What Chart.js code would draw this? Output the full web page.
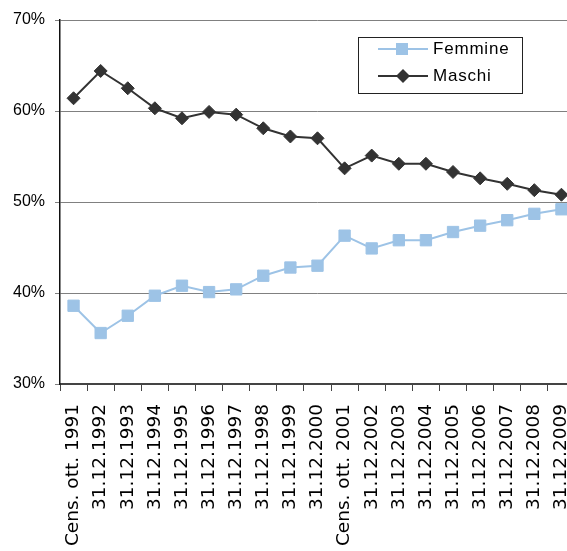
<!DOCTYPE html>
<html>
<head>
<meta charset="utf-8">
<script src="https://cdn.jsdelivr.net/npm/chart.js@4"></script>
<style>
  html, body { margin: 0; padding: 0; background: #fff; overflow: hidden; }
</style>
</head>
<body>
<canvas id="chart" width="584" height="551"></canvas>
<script>
var labels = ["Cens. ott. 1991", "31.12.1992", "31.12.1993", "31.12.1994", "31.12.1995",
  "31.12.1996", "31.12.1997", "31.12.1998", "31.12.1999", "31.12.2000",
  "Cens. ott. 2001", "31.12.2002", "31.12.2003", "31.12.2004", "31.12.2005",
  "31.12.2006", "31.12.2007", "31.12.2008", "31.12.2009"]

var femmine = [38.6, 35.6, 37.5, 39.7, 40.8, 40.1, 40.4, 41.9, 42.8, 43.0,
  46.3, 44.9, 45.8, 45.8, 46.7, 47.4, 48.0, 48.7, 49.2]

var maschi = [61.4, 64.4, 62.5, 60.3, 59.2, 59.9, 59.6, 58.1, 57.2, 57.0,
  53.7, 55.1, 54.2, 54.2, 53.3, 52.6, 52.0, 51.3, 50.8]

var yTicks = [30, 40, 50, 60, 70]

var femColor = "#9dc3e6"
var masColor = "#333333"

// legend box drawn inside the plot, like the original
var boxLegend = {
  id: "boxLegend",
  afterDraw: function (chart) {
    var ctx = chart.ctx
    ctx.save()
    ctx.fillStyle = "#fff"
    ctx.fillRect(358, 37, 164, 56)
    ctx.strokeStyle = "#222"
    ctx.lineWidth = 1
    ctx.strokeRect(358.5, 37.5, 164, 56)
    var rows = [
      { text: "Femmine", color: femColor, y: 49, shape: "sq" },
      { text: "Maschi", color: masColor, y: 76, shape: "dia" }
    ]
    rows.forEach(function (r) {
      ctx.strokeStyle = r.color
      ctx.lineWidth = 2
      ctx.beginPath()
      ctx.moveTo(378, r.y)
      ctx.lineTo(428, r.y)
      ctx.stroke()
      ctx.fillStyle = r.color
      ctx.beginPath()
      if (r.shape == "sq") {
        ctx.rect(396, r.y - 6, 12, 12)
      } else {
        ctx.moveTo(403, r.y - 7)
        ctx.lineTo(410, r.y)
        ctx.lineTo(403, r.y + 7)
        ctx.lineTo(396, r.y)
        ctx.closePath()
      }
      ctx.fill()
      ctx.fillStyle = "#000"
      ctx.font = "17px 'Liberation Sans', Arial, sans-serif"
      ctx.letterSpacing = "0.8px"
      ctx.textBaseline = "middle"
      ctx.fillText(r.text, 433, r.y)
    })
    ctx.restore()
  }
}

var ctx = document.getElementById("chart").getContext("2d")

var chart = new Chart(ctx, {
  type: "line",
  data: {
    labels: labels,
    datasets: [
      {
        label: "Femmine",
        data: femmine,
        borderColor: femColor,
        backgroundColor: femColor,
        borderWidth: 2,
        pointStyle: "rect",
        pointRadius: 8,
        pointBorderWidth: 1,
        tension: 0
      },
      {
        label: "Maschi",
        data: maschi,
        borderColor: masColor,
        backgroundColor: masColor,
        borderWidth: 2,
        pointStyle: "rectRot",
        pointRadius: 6.5,
        pointBorderWidth: 1,
        tension: 0
      }
    ]
  },
  options: {
    responsive: false,
    animation: false,
    layout: { padding: { top: 20, right: 0, left: 0, bottom: 0 } },
    plugins: {
      legend: { display: false },
      tooltip: { enabled: false }
    },
    scales: {
      x: {
        offset: true,
        grid: {
          offset: true,
          drawOnChartArea: false,
          drawTicks: true,
          tickLength: 7,
          color: "#444"
        },
        border: { color: "#444", width: 2 },
        ticks: {
          autoSkip: false,
          minRotation: 90,
          maxRotation: 90,
          padding: 13,
          color: "#000",
          font: { family: "'DejaVu Sans'", size: 18.5 }
        },
        afterFit: function (scale) {
          scale.height = 167
          scale.paddingLeft = 0
          scale.paddingRight = 0
        }
      },
      y: {
        min: 30,
        max: 70,
        afterBuildTicks: function (scale) {
          scale.ticks = yTicks.map(function (v) { return { value: v } })
        },
        grid: {
          color: "#808080",
          lineWidth: 1,
          tickLength: 5
        },
        border: { color: "#111", width: 1.5 },
        ticks: {
          padding: 10,
          color: "#000",
          font: { family: "'Liberation Sans'", size: 16 },
          callback: function (v) { return v + "%" }
        },
        afterFit: function (scale) {
          scale.width = 60
          scale.paddingTop = 0
          scale.paddingBottom = 0
        }
      }
    }
  },
  plugins: [boxLegend]
})
</script>
</body>
</html>
